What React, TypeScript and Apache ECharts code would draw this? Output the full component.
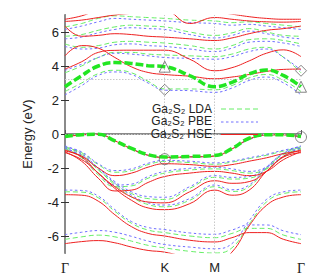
import React, { useEffect, useRef } from "react";
import * as echarts from "echarts";

const KX = [0, 0.2222, 0.4444, 0.6667, 0.8889, 1.1111, 1.3333, 1.6667, 2.0, 2.2309, 2.4618, 2.6928, 2.9238, 3.1547];
const TICK_POS = [0, 1.3333, 2.0, 3.1547];
const TICK_NAMES = ["Γ", "K", "M", "Γ"];
const Y_TICKS = [-6, -4, -2, 0, 2, 4, 6];

// HSE (red)
const HSE_C1 = [3.82, 4.25, 4.8, 4.92, 4.93, 4.93, 4.93, 4.4, 3.72, 3.9, 4.3, 4.75, 4.95, 4.55];
const HSE_C2 = [4.6, 5.2, 5.05, 4.5, 3.95, 3.62, 3.5, 3.4, 3.25, 3.35, 3.5, 3.68, 3.8, 3.82];
const HSE_C3 = [6.35, 5.75, 5.8, 5.9, 5.85, 5.75, 5.7, 5.6, 5.5, 5.65, 5.9, 6.1, 6.2, 6.35];
const HSE_C4 = [6.62, 6.7, 6.85, 7.0, 7.1, 7.2, 7.25, 6.5, 6.85, 6.75, 6.65, 6.6, 6.58, 6.62];
const HSE_C5 = [6.75, 6.95, 7.3, 7.5, 7.5, 7.5, 7.5, 7.4, 7.2, 7.05, 6.9, 6.8, 6.75, 6.75];
const HSE_V1 = [-0.18, -0.05, -0.02, -0.4, -0.88, -1.25, -1.38, -1.35, -1.3, -0.88, -0.3, -0.06, -0.05, -0.18];
const HSE_V2 = [-1.0, -1.3, -2.0, -2.45, -2.3, -1.95, -1.75, -1.8, -1.9, -1.8, -1.6, -1.4, -1.15, -1.0];
const HSE_V3 = [-1.05, -1.6, -2.6, -3.35, -3.3, -2.85, -2.5, -2.3, -2.2, -2.3, -2.45, -2.2, -1.5, -1.05];
const HSE_V4 = [-0.95, -1.35, -2.3, -3.1, -3.7, -4.0, -4.05, -3.4, -2.75, -2.9, -2.8, -2.2, -1.3, -0.95];
const HSE_V5 = [-1.1, -1.5, -2.3, -3.2, -3.9, -4.35, -4.45, -4.1, -3.3, -3.6, -3.3, -2.2, -1.35, -1.1];
const HSE_V6 = [-3.57, -3.6, -3.95, -4.75, -5.45, -5.85, -6.0, -6.25, -6.35, -6.1, -5.8, -5.8, -6.2, -6.45];
const HSE_V7 = [-6.45, -6.33, -6.27, -6.4, -6.65, -6.85, -6.95, -7.3, -7.6, -6.95, -5.4, -4.2, -3.7, -3.57];

// LDA (green)
const LDA_C1 = [2.5, 3.0, 3.55, 3.75, 3.6, 3.1, 2.65, 2.65, 2.6, 2.85, 3.3, 3.5, 3.15, 2.5];
const LDA_C2 = [3.6, 4.0, 4.5, 4.8, 4.8, 4.7, 4.65, 4.6, 4.55, 4.7, 5.0, 5.1, 4.5, 3.6];
const LDA_C3 = [5.3, 5.1, 5.2, 5.4, 5.45, 5.4, 5.35, 5.2, 5.0, 5.2, 5.55, 5.6, 5.5, 5.3];
const LDA_C4 = [5.75, 5.85, 6.1, 6.3, 6.4, 6.35, 6.3, 6.0, 5.8, 5.95, 6.2, 6.0, 5.8, 5.75];
const LDA_C5 = [6.3, 6.5, 6.8, 6.95, 6.9, 6.85, 6.8, 6.7, 6.65, 6.55, 6.6, 6.5, 6.4, 6.3];
const LDA_V1 = [-0.15, -0.04, -0.02, -0.38, -0.86, -1.23, -1.35, -1.33, -1.28, -0.86, -0.3, -0.06, -0.04, -0.15];
const LDA_V2 = [-0.8, -1.1, -1.8, -2.25, -2.15, -1.8, -1.62, -1.68, -1.78, -1.65, -1.45, -1.25, -1.0, -0.8];
const LDA_V3 = [-0.85, -1.4, -2.4, -3.1, -3.05, -2.6, -2.3, -2.12, -2.05, -2.15, -2.3, -2.05, -1.35, -0.85];
const LDA_V4 = [-0.75, -1.2, -2.1, -2.9, -3.5, -3.8, -3.85, -3.2, -2.55, -2.65, -2.6, -2.05, -1.15, -0.75];
const LDA_V5 = [-0.9, -1.3, -2.1, -3.0, -3.7, -4.15, -4.28, -3.9, -3.1, -3.38, -3.1, -2.0, -1.2, -0.9];
const LDA_V6 = [-3.4, -3.42, -3.75, -4.55, -5.25, -5.65, -5.8, -6.0, -6.1, -5.85, -5.55, -5.55, -5.95, -6.2];
const LDA_V7 = [-6.2, -6.05, -5.95, -6.05, -6.3, -6.55, -6.7, -6.9, -7.0, -6.7, -5.3, -4.0, -3.5, -3.4];

// PBE (blue)
const PBE_C1 = [2.3, 2.85, 3.45, 3.65, 3.5, 3.0, 2.58, 2.55, 2.45, 2.7, 3.15, 3.35, 3.0, 2.3];
const PBE_C2 = [3.75, 4.1, 4.5, 4.75, 4.7, 4.6, 4.5, 4.45, 4.4, 4.55, 4.85, 5.0, 4.5, 3.75];
const PBE_C3 = [5.15, 5.0, 5.05, 5.25, 5.3, 5.2, 5.15, 5.0, 4.85, 5.05, 5.4, 5.45, 5.35, 5.15];
const PBE_C4 = [5.6, 5.7, 5.95, 6.15, 6.25, 6.2, 6.15, 5.85, 5.65, 5.8, 6.05, 5.9, 5.7, 5.6];
const PBE_C5 = [6.15, 6.35, 6.6, 6.8, 6.75, 6.7, 6.65, 6.55, 6.5, 6.4, 6.45, 6.35, 6.25, 6.15];
const PBE_V1 = [-0.17, -0.05, -0.03, -0.4, -0.88, -1.25, -1.37, -1.35, -1.3, -0.88, -0.32, -0.07, -0.05, -0.17];
const PBE_V2 = [-0.75, -1.05, -1.75, -2.15, -2.05, -1.72, -1.55, -1.6, -1.7, -1.6, -1.4, -1.2, -0.95, -0.75];
const PBE_V3 = [-0.8, -1.35, -2.3, -3.0, -2.95, -2.5, -2.2, -2.02, -1.95, -2.05, -2.2, -1.95, -1.3, -0.8];
const PBE_V4 = [-0.7, -1.15, -2.0, -2.8, -3.4, -3.68, -3.72, -3.1, -2.45, -2.55, -2.5, -1.95, -1.1, -0.7];
const PBE_V5 = [-0.85, -1.25, -2.0, -2.9, -3.6, -4.05, -4.18, -3.8, -3.0, -3.28, -3.0, -1.95, -1.15, -0.85];
const PBE_V6 = [-3.3, -3.32, -3.65, -4.45, -5.15, -5.5, -5.62, -5.82, -5.9, -5.65, -5.35, -5.35, -5.7, -5.92];
const PBE_V7 = [-5.92, -5.78, -5.68, -5.78, -6.02, -6.3, -6.5, -6.65, -6.75, -6.45, -5.1, -3.85, -3.4, -3.3];

// Highlighted edge bands (thick green)
const EDGE_CB = [2.78, 3.43, 4.0, 4.2, 4.15, 4.02, 3.96, 3.43, 2.78, 3.04, 3.53, 3.76, 3.43, 2.78];
const EDGE_VB = [-0.15, -0.04, -0.02, -0.4, -0.85, -1.22, -1.35, -1.32, -1.27, -0.86, -0.25, -0.05, -0.05, -0.15];

// Markers
const MARK_X = [1.3333, 1.3333, 1.3333, 3.1547, 3.1547, 3.1547];
const MARK_Y = [3.96, 2.6, -1.48, 3.72, 2.78, -0.18];
const MARK_SYMBOL = ["triangle", "diamond", "circle", "diamond", "triangle", "circle"];

const GUIDE_X = [1.3333, 2.0];
const GUIDE_Y = [0, 3.25];

const HSE = [HSE_C1, HSE_C2, HSE_C3, HSE_C4, HSE_C5, HSE_V1, HSE_V2, HSE_V3, HSE_V4, HSE_V5, HSE_V6, HSE_V7];
const LDA = [LDA_C1, LDA_C2, LDA_C3, LDA_C4, LDA_C5, LDA_V1, LDA_V2, LDA_V3, LDA_V4, LDA_V5, LDA_V6, LDA_V7];
const PBE = [PBE_C1, PBE_C2, PBE_C3, PBE_C4, PBE_C5, PBE_V1, PBE_V2, PBE_V3, PBE_V4, PBE_V5, PBE_V6, PBE_V7];

const FONT = '"Liberation Sans", Arial, sans-serif';

function toData(band: number[]) {
  return band.map((v, i) => [KX[i], v]);
}

export default function App() {
  const ref = useRef<HTMLDivElement>(null);
  useEffect(() => {
    if (!ref.current) return;
    const chart = echarts.init(ref.current, undefined, { renderer: "svg" });

    const bandSeries = (bands: number[][], name: string, color: string, type: any, z: number) =>
      bands.map((b) => ({
        type: "line",
        name,
        data: toData(b),
        smooth: 0.45,
        symbol: "none",
        z,
        lineStyle: { color, width: 1, type },
        silent: true,
      }));

    const series: any[] = [
      ...bandSeries(LDA, "LDA", "#66ee66", [5, 3], 2),
      ...bandSeries(PBE, "PBE", "#7070ff", [2.5, 2.5], 3),
      ...bandSeries(HSE, "HSE", "#ee2020", "solid", 4),
      {
        type: "line",
        data: toData(EDGE_CB),
        smooth: 0.45,
        symbol: "none",
        z: 6,
        lineStyle: { color: "#22e622", width: 3.5, type: [8, 3] },
        markLine: {
          silent: true,
          symbol: "none",
          label: { show: false },
          lineStyle: { color: "#c8c8c8", width: 1, type: [1.5, 1.5] },
          data: [
            ...GUIDE_X.map((x) => ({ xAxis: x })),
            ...GUIDE_Y.map((y) => ({ yAxis: y })),
          ],
        },
      },
      {
        type: "line",
        data: toData(EDGE_VB),
        smooth: 0.45,
        symbol: "none",
        z: 6,
        lineStyle: { color: "#22e622", width: 3.5, type: [8, 3] },
      },
      {
        type: "scatter",
        clip: false,
        z: 10,
        data: MARK_X.map((x, i) => ({ value: [x, MARK_Y[i]], symbol: MARK_SYMBOL[i] })),
        symbolSize: 11,
        itemStyle: { color: "rgba(0,0,0,0)", borderColor: "#666", borderWidth: 1 },
      },
    ];

    const legendRows = [
      { text: "Ga₂S₂ LDA", color: "#66ee66", dash: [5, 3], ty: 108.5, ly: 109 },
      { text: "Ga₂S₂ PBE", color: "#7070ff", dash: [2.5, 2.5], ty: 121, ly: 122 },
      { text: "Ga₂S₂ HSE", color: "#ee2020", dash: null, ty: 133.5, ly: 134.5 },
    ];
    const graphic: any[] = [];
    legendRows.forEach((r) => {
      graphic.push({
        type: "text",
        x: 212,
        y: r.ty,
        z: 20,
        style: { text: r.text, font: `12px ${FONT}`, fill: "#222", align: "right", verticalAlign: "middle" },
      });
      graphic.push({
        type: "line",
        z: 20,
        shape: { x1: 221, y1: r.ly, x2: 258, y2: r.ly },
        style: { stroke: r.color, lineWidth: 1, lineDash: r.dash || undefined },
      });
    });

    chart.setOption({
      animation: false,
      backgroundColor: "#fff",
      grid: { left: 65, right: 19, top: 15, bottom: 27 },
      xAxis: [
        {
          type: "value",
          min: 0,
          max: 3.1547,
          axisLine: { show: true, lineStyle: { color: "#333", width: 1 } },
          axisTick: { show: true, inside: true, length: 4, customValues: TICK_POS, lineStyle: { color: "#555" } },
          axisLabel: {
            show: true,
            customValues: TICK_POS,
            showMinLabel: true,
            showMaxLabel: true,
            margin: 8,
            fontSize: 13,
            fontFamily: FONT,
            color: "#222",
            formatter: (v: number) => {
              let best = 0;
              TICK_POS.forEach((p, i) => {
                if (Math.abs(p - v) < Math.abs(TICK_POS[best] - v)) best = i;
              });
              const n = TICK_NAMES[best];
              return n === "Γ" ? "{g|Γ}" : n;
            },
            rich: { g: { fontFamily: '"Liberation Serif", "DejaVu Serif", serif', fontSize: 14, color: "#222" } },
          },
          splitLine: { show: false },
        },
        {
          type: "value",
          position: "top",
          min: 0,
          max: 3.1547,
          axisLine: { show: true, lineStyle: { color: "#8a8a8a", width: 2 } },
          axisTick: { show: false },
          axisLabel: { show: false },
          splitLine: { show: false },
        },
      ],
      yAxis: [
        {
          type: "value",
          min: -7,
          max: 7,
          name: "Energy (eV)",
          nameLocation: "middle",
          nameGap: 31,
          nameTextStyle: { fontSize: 13, fontFamily: FONT, color: "#222" },
          axisLine: { show: true, lineStyle: { color: "#333", width: 1 } },
          axisTick: { show: true, inside: true, length: 4, customValues: Y_TICKS, lineStyle: { color: "#333" } },
          axisLabel: {
            show: true,
            customValues: Y_TICKS,
            margin: 6,
            fontSize: 13,
            fontFamily: FONT,
            color: "#222",
          },
          splitLine: { show: false },
        },
        {
          type: "value",
          position: "right",
          min: -7,
          max: 7,
          axisLine: { show: true, lineStyle: { color: "#8a8a8a", width: 2 } },
          axisTick: { show: true, inside: true, length: 4, customValues: Y_TICKS, lineStyle: { color: "#333" } },
          axisLabel: { show: false },
          splitLine: { show: false },
        },
      ],
      series,
      graphic,
    });
    return () => chart.dispose();
  }, []);
  return (
    <div
      ref={ref}
      style={{ position: "fixed", left: 0, top: 0, width: 320, height: 280, background: "#fff" }}
    />
  );
}
